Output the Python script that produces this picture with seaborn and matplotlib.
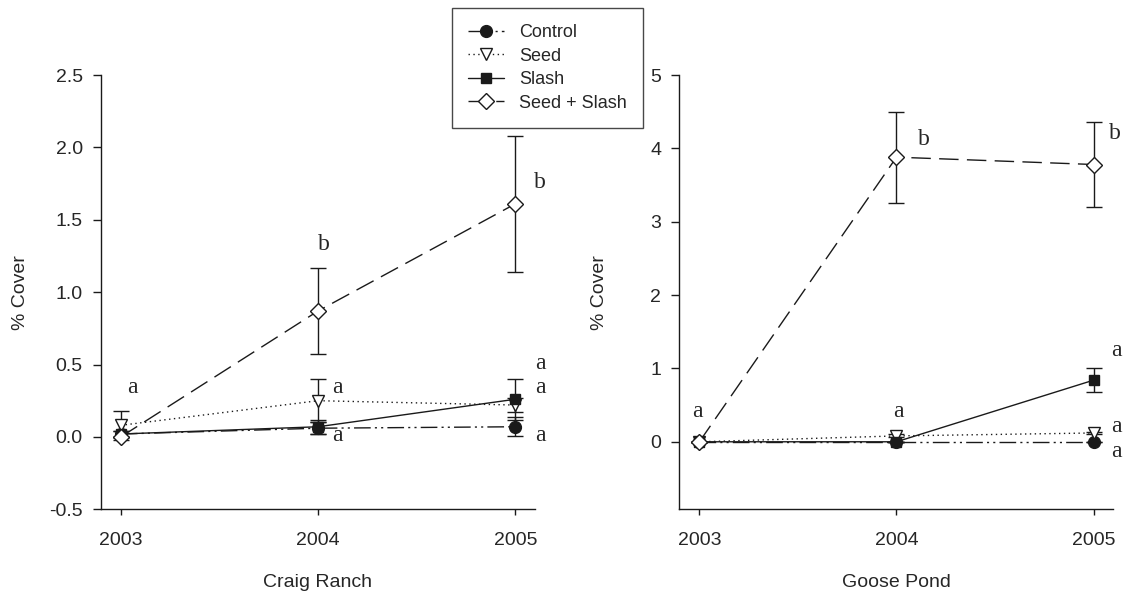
import numpy as np
import pandas as pd
import matplotlib
matplotlib.use("Agg")
import matplotlib.pyplot as plt
from matplotlib.lines import Line2D
import seaborn as sns

# ---------------- data ----------------
years = [2003, 2004, 2005]
treatments = ["Control", "Seed", "Slash", "Seed + Slash"]

# Craig Ranch
cr_control = [0.02, 0.06, 0.07]
cr_control_err = [0.02, 0.04, 0.067]
cr_seed = [0.08, 0.25, 0.22]
cr_seed_err = [0.10, 0.15, 0.05]
cr_slash = [0.02, 0.07, 0.26]
cr_slash_err = [0.02, 0.05, 0.14]
cr_seedslash = [0.0, 0.87, 1.61]
cr_seedslash_err = [0.0, 0.30, 0.47]

# Goose Pond
gp_control = [0.0, 0.0, 0.0]
gp_control_err = [0.0, 0.0, 0.0]
gp_seed = [0.0, 0.08, 0.12]
gp_seed_err = [0.0, 0.02, 0.02]
gp_slash = [0.0, 0.0, 0.84]
gp_slash_err = [0.0, 0.0, 0.16]
gp_seedslash = [0.0, 3.88, 3.78]
gp_seedslash_err = [0.0, 0.62, 0.58]

# significance letters: (x, y, text)
cr_letters_x = [2003.06, 2004.03, 2004.10, 2004.10, 2005.125, 2005.125, 2005.125, 2005.125]
cr_letters_y = [0.34, 1.33, 0.34, 0.01, 1.76, 0.51, 0.34, 0.01]
cr_letters = ["a", "b", "a", "a", "b", "a", "a", "a"]

gp_letters_x = [2002.99, 2004.01, 2004.14, 2005.11, 2005.115, 2005.115, 2005.115]
gp_letters_y = [0.41, 0.41, 4.12, 4.20, 1.24, 0.21, -0.13]
gp_letters = ["a", "a", "b", "b", "a", "a", "a"]

cr_yticks = [-0.5, 0.0, 0.5, 1.0, 1.5, 2.0, 2.5]
gp_yticks = [0, 1, 2, 3, 4, 5]

# ---------------- style ----------------
sns.set_theme(style="ticks")
plt.rcParams["font.family"] = ["Liberation Sans", "DejaVu Sans"]

styles = {
    "Control": dict(marker="o", ms=8.5, mfc="k", ls=(0, (12, 3, 1.5, 3, 1.5, 3))),
    "Seed": dict(marker="v", ms=9, mfc="white", ls=(0, (1, 2.5))),
    "Slash": dict(marker="s", ms=7.5, mfc="k", ls="-"),
    "Seed + Slash": dict(marker="D", ms=8.5, mfc="white", ls=(0, (14, 6))),
}

fig = plt.figure(figsize=(11.25, 5.93), dpi=100)
ax1 = fig.add_axes([0.0895, 0.1412, 0.3861, 0.7323])
ax2 = fig.add_axes([0.6038, 0.1412, 0.3858, 0.7323])


def draw(ax, series, errs):
    for name, vals, err in zip(treatments, series, errs):
        st = styles[name]
        ax.errorbar(years, vals, yerr=err, fmt="none", ecolor="k",
                    elinewidth=1, capsize=5.5, capthick=1, zorder=2)
        df = pd.DataFrame({"year": years, "cover": vals})
        sns.lineplot(data=df, x="year", y="cover", ax=ax, color="k",
                     lw=1, linestyle=st["ls"], marker=st["marker"],
                     markersize=st["ms"], markerfacecolor=st["mfc"],
                     markeredgecolor="k", markeredgewidth=1,
                     legend=False, zorder=3)


draw(ax1, [cr_control, cr_seed, cr_slash, cr_seedslash],
     [cr_control_err, cr_seed_err, cr_slash_err, cr_seedslash_err])
draw(ax2, [gp_control, gp_seed, gp_slash, gp_seedslash],
     [gp_control_err, gp_seed_err, gp_slash_err, gp_seedslash_err])

for ax, lx, ly, lt in [(ax1, cr_letters_x, cr_letters_y, cr_letters),
                       (ax2, gp_letters_x, gp_letters_y, gp_letters)]:
    for x, y, t in zip(lx, ly, lt):
        ax.text(x, y, t, ha="center", va="center", fontsize=17,
                family=["Liberation Serif", "DejaVu Serif"], clip_on=False)

ax1.set_xlim(2002.898, 2005.10)
ax1.set_ylim(-0.5, 2.5)
ax1.set_yticks(cr_yticks)
ax1.set_yticklabels([f"{v:.1f}" for v in cr_yticks])
ax1.set_xlabel("Craig Ranch", fontsize=14)

ax2.set_xlim(2002.898, 2005.10)
ax2.set_ylim(-0.92, 5)
ax2.set_yticks(gp_yticks)
ax2.set_yticklabels([str(v) for v in gp_yticks])
ax2.set_xlabel("Goose Pond", fontsize=14)

for ax in (ax1, ax2):
    ax.set_xticks(years)
    ax.set_xticklabels([str(y) for y in years])
    ax.set_ylabel("% Cover", fontsize=14)
    sns.despine(ax=ax)
    for s in ("left", "bottom"):
        ax.spines[s].set_color("k")
        ax.spines[s].set_linewidth(1)
    ax.tick_params(axis="y", length=6, width=1, color="k", labelsize=14, pad=7)
    ax.tick_params(axis="x", length=4.5, width=1, color="k", labelsize=14, pad=12)
    ax.yaxis.set_label_coords(-0.165, 0.5)
    ax.xaxis.set_label_coords(0.5, -0.148)
    ax.grid(False)

handles = [Line2D([0], [0], color="k", lw=1, linestyle=styles[n]["ls"],
                  marker=styles[n]["marker"], markersize=styles[n]["ms"],
                  markerfacecolor=styles[n]["mfc"], markeredgecolor="k")
           for n in treatments]
leg = fig.legend(handles, treatments, loc="upper left",
                 bbox_to_anchor=(0.4018, 0.9865), borderaxespad=0,
                 fontsize=13, frameon=True, fancybox=False, edgecolor="k",
                 handlelength=2.0, handletextpad=0.8, borderpad=0.9,
                 labelspacing=0.36)
leg.get_frame().set_linewidth(1)

fig.savefig("out.png", dpi=100, facecolor="white")
